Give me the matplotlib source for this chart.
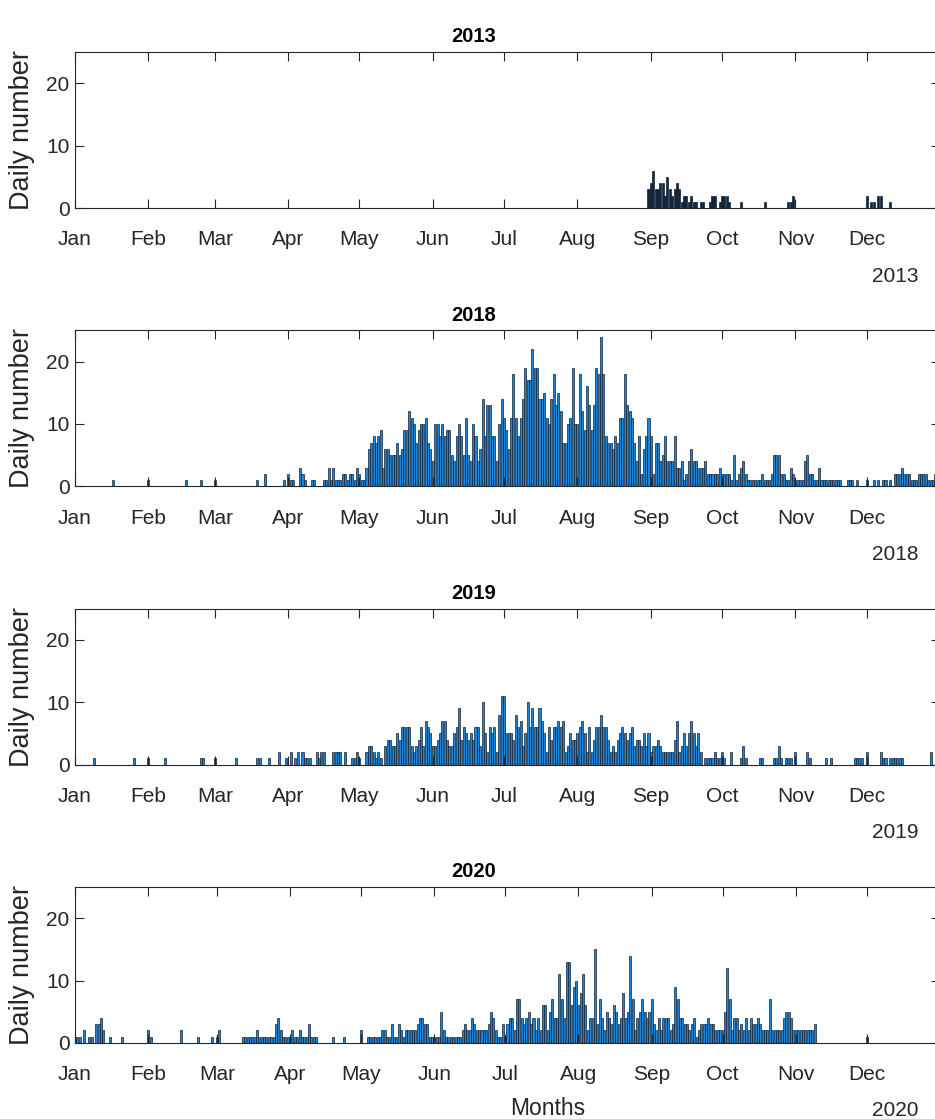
import datetime as dt
import numpy as np
import pandas as pd
import matplotlib
matplotlib.use('Agg')
import matplotlib.pyplot as plt
import matplotlib.dates as mdates

plt.rcParams['font.family'] = ['Liberation Sans', 'DejaVu Sans']

# daily counts, one list per month (Jan..Dec)
counts_2013 = [
    [0, 0, 0, 0, 0, 0, 0, 0, 0, 0, 0, 0, 0, 0, 0, 0, 0, 0, 0, 0, 0, 0, 0, 0, 0, 0, 0, 0, 0, 0, 0],
    [0, 0, 0, 0, 0, 0, 0, 0, 0, 0, 0, 0, 0, 0, 0, 0, 0, 0, 0, 0, 0, 0, 0, 0, 0, 0, 0, 0],
    [0, 0, 0, 0, 0, 0, 0, 0, 0, 0, 0, 0, 0, 0, 0, 0, 0, 0, 0, 0, 0, 0, 0, 0, 0, 0, 0, 0, 0, 0, 0],
    [0, 0, 0, 0, 0, 0, 0, 0, 0, 0, 0, 0, 0, 0, 0, 0, 0, 0, 0, 0, 0, 0, 0, 0, 0, 0, 0, 0, 0, 0],
    [0, 0, 0, 0, 0, 0, 0, 0, 0, 0, 0, 0, 0, 0, 0, 0, 0, 0, 0, 0, 0, 0, 0, 0, 0, 0, 0, 0, 0, 0, 0],
    [0, 0, 0, 0, 0, 0, 0, 0, 0, 0, 0, 0, 0, 0, 0, 0, 0, 0, 0, 0, 0, 0, 0, 0, 0, 0, 0, 0, 0, 0],
    [0, 0, 0, 0, 0, 0, 0, 0, 0, 0, 0, 0, 0, 0, 0, 0, 0, 0, 0, 0, 0, 0, 0, 0, 0, 0, 0, 0, 0, 0, 0],
    [0, 0, 0, 0, 0, 0, 0, 0, 0, 0, 0, 0, 0, 0, 0, 0, 0, 0, 0, 0, 0, 0, 0, 0, 0, 0, 0, 0, 0, 0, 3],
    [4, 6, 3, 3, 4, 4, 2, 5, 3, 2, 3, 4, 3, 1, 2, 2, 1, 2, 1, 1, 0, 1, 1, 0, 0, 1, 2, 2, 0, 1],
    [2, 2, 2, 1, 0, 0, 0, 0, 1, 0, 0, 0, 0, 0, 0, 0, 0, 0, 1, 0, 0, 0, 0, 0, 0, 0, 0, 0, 1, 1, 2],
    [0, 0, 0, 0, 0, 0, 0, 0, 0, 0, 0, 0, 0, 0, 0, 0, 0, 0, 0, 0, 0, 0, 0, 0, 0, 0, 0, 0, 0, 0],
    [2, 0, 1, 1, 0, 2, 2, 0, 0, 0, 1, 0, 0, 0, 0, 0, 0, 0, 0, 0, 0, 0, 0, 0, 0, 0, 0, 0, 0, 0, 0],
]

counts_2018 = [
    [0, 0, 0, 0, 0, 0, 0, 0, 0, 0, 0, 0, 0, 0, 0, 0, 1, 0, 0, 0, 0, 0, 0, 0, 0, 0, 0, 0, 0, 0, 0],
    [1, 0, 0, 0, 0, 0, 0, 0, 0, 0, 0, 0, 0, 0, 0, 0, 1, 0, 0, 0, 0, 0, 1, 0, 0, 0, 0, 0],
    [1, 0, 0, 0, 0, 0, 0, 0, 0, 0, 0, 0, 0, 0, 0, 0, 0, 0, 1, 0, 0, 2, 0, 0, 0, 0, 0, 0, 0, 1, 0],
    [2, 1, 1, 0, 0, 3, 2, 1, 0, 0, 1, 1, 0, 0, 0, 1, 1, 3, 1, 3, 1, 1, 1, 2, 2, 1, 2, 2, 1, 3],
    [2, 1, 1, 3, 6, 7, 8, 7, 8, 9, 3, 6, 6, 5, 5, 5, 7, 5, 6, 9, 9, 12, 11, 10, 7, 9, 10, 10, 11, 7, 6],
    [4, 10, 10, 8, 10, 8, 9, 9, 5, 4, 8, 10, 8, 5, 11, 5, 4, 10, 8, 4, 6, 14, 8, 13, 13, 8, 8, 4, 10, 14],
    [11, 9, 6, 11, 18, 11, 8, 11, 14, 19, 17, 17, 22, 19, 19, 14, 14, 15, 11, 10, 14, 18, 13, 15, 12, 7, 7, 10, 11, 19, 10],
    [10, 18, 12, 9, 16, 13, 9, 13, 19, 18, 24, 18, 8, 7, 7, 6, 8, 7, 11, 11, 18, 13, 12, 11, 7, 4, 8, 2, 6, 8, 11],
    [8, 2, 7, 7, 4, 5, 8, 4, 4, 4, 8, 3, 3, 4, 1, 2, 4, 6, 4, 4, 3, 3, 3, 4, 2, 2, 2, 2, 2, 3],
    [2, 2, 2, 2, 1, 5, 1, 2, 3, 4, 2, 1, 1, 1, 1, 1, 1, 2, 1, 1, 1, 2, 5, 5, 5, 2, 2, 1, 1, 3, 2],
    [1, 1, 1, 1, 4, 5, 2, 2, 1, 1, 3, 1, 1, 1, 1, 1, 1, 1, 1, 1, 0, 0, 1, 1, 1, 0, 1, 0, 0, 0],
    [1, 0, 0, 1, 0, 1, 0, 1, 1, 0, 1, 0, 2, 2, 2, 3, 2, 2, 2, 1, 1, 1, 2, 2, 2, 2, 1, 1, 1, 2, 2],
]

counts_2019 = [
    [0, 0, 0, 0, 0, 0, 0, 0, 1, 0, 0, 0, 0, 0, 0, 0, 0, 0, 0, 0, 0, 0, 0, 0, 0, 1, 0, 0, 0, 0, 0],
    [1, 0, 0, 0, 0, 0, 0, 1, 0, 0, 0, 0, 0, 0, 0, 0, 0, 0, 0, 0, 0, 0, 1, 1, 0, 0, 0, 0],
    [1, 0, 0, 0, 0, 0, 0, 0, 0, 1, 0, 0, 0, 0, 0, 0, 0, 0, 1, 1, 0, 0, 0, 1, 0, 0, 0, 2, 0, 0, 1],
    [0, 2, 0, 1, 2, 0, 2, 1, 1, 1, 0, 0, 2, 1, 2, 2, 0, 0, 0, 2, 2, 2, 2, 0, 2, 0, 0, 1, 1, 2],
    [1, 0, 0, 2, 3, 3, 2, 1, 2, 1, 0, 3, 4, 4, 3, 3, 5, 4, 6, 6, 6, 6, 3, 2, 3, 4, 6, 3, 7, 6, 5],
    [3, 3, 4, 5, 7, 7, 4, 3, 3, 5, 6, 9, 4, 6, 5, 4, 5, 4, 6, 6, 3, 10, 5, 2, 6, 5, 6, 2, 8, 11],
    [11, 5, 5, 5, 4, 8, 6, 7, 3, 5, 10, 6, 9, 6, 6, 9, 7, 5, 2, 6, 4, 6, 6, 7, 6, 7, 2, 3, 5, 4, 4],
    [5, 6, 7, 5, 2, 6, 2, 4, 6, 6, 8, 6, 6, 4, 2, 3, 2, 4, 5, 6, 5, 4, 5, 6, 3, 4, 4, 3, 5, 3, 5],
    [2, 3, 3, 4, 3, 2, 2, 2, 2, 2, 4, 7, 2, 3, 5, 3, 5, 7, 5, 3, 5, 2, 0, 1, 1, 1, 1, 2, 1, 1],
    [2, 1, 0, 0, 2, 0, 0, 0, 1, 3, 1, 0, 0, 0, 0, 0, 1, 1, 0, 0, 0, 0, 1, 1, 3, 1, 0, 1, 1, 1, 0],
    [2, 0, 0, 0, 0, 2, 1, 0, 0, 0, 0, 0, 0, 1, 0, 1, 0, 0, 0, 0, 0, 0, 0, 0, 0, 1, 1, 1, 1, 0],
    [2, 0, 0, 0, 0, 0, 2, 1, 1, 0, 1, 1, 1, 1, 1, 1, 0, 0, 0, 0, 0, 0, 0, 0, 0, 0, 0, 2, 0, 0, 0],
]

counts_2020 = [
    [1, 1, 1, 0, 2, 0, 1, 1, 0, 3, 3, 4, 2, 0, 0, 1, 0, 0, 0, 0, 1, 0, 0, 0, 0, 0, 0, 0, 0, 0, 0],
    [2, 1, 0, 0, 0, 0, 0, 0, 0, 0, 0, 0, 0, 0, 2, 0, 0, 0, 0, 0, 0, 1, 0, 0, 0, 0, 0, 1, 0],
    [1, 2, 0, 0, 0, 0, 0, 0, 0, 0, 0, 1, 1, 1, 1, 1, 1, 2, 1, 1, 1, 1, 1, 1, 1, 3, 4, 2, 1, 1, 1],
    [1, 2, 1, 1, 2, 1, 1, 1, 3, 1, 1, 1, 0, 0, 0, 0, 0, 0, 1, 0, 0, 0, 0, 1, 0, 0, 0, 0, 0, 0],
    [2, 0, 0, 1, 1, 1, 1, 1, 1, 2, 2, 1, 1, 3, 1, 1, 3, 2, 1, 2, 2, 2, 2, 2, 3, 4, 4, 3, 3, 1, 1],
    [1, 1, 1, 5, 2, 1, 1, 1, 1, 1, 1, 1, 2, 3, 2, 2, 4, 3, 2, 2, 2, 2, 2, 3, 5, 4, 2, 1, 1, 3],
    [1, 3, 4, 4, 2, 7, 7, 4, 3, 4, 5, 3, 4, 2, 4, 2, 6, 6, 2, 5, 7, 4, 4, 11, 7, 4, 13, 13, 6, 9, 10],
    [6, 8, 11, 6, 2, 4, 4, 15, 3, 7, 4, 2, 5, 4, 3, 6, 5, 3, 4, 8, 4, 5, 14, 7, 2, 4, 5, 7, 5, 4, 5],
    [7, 3, 2, 4, 2, 4, 4, 4, 2, 3, 9, 7, 4, 4, 3, 3, 2, 3, 4, 1, 2, 3, 3, 3, 4, 3, 3, 2, 2, 2],
    [2, 5, 12, 7, 2, 4, 4, 2, 3, 2, 4, 2, 4, 3, 3, 4, 3, 2, 2, 2, 7, 2, 2, 2, 2, 2, 4, 5, 5, 4, 2],
    [2, 2, 2, 2, 2, 2, 2, 2, 3, 0, 0, 0, 0, 0, 0, 0, 0, 0, 0, 0, 0, 0, 0, 0, 0, 0, 0, 0, 0, 0],
    [1, 0, 0, 0, 0, 0, 0, 0, 0, 0, 0, 0, 0, 0, 0, 0, 0, 0, 0, 0, 0, 0, 0, 0, 0, 0, 0, 0, 0, 0, 0],
]

years = [2013, 2018, 2019, 2020]
yearly_counts = [counts_2013, counts_2018, counts_2019, counts_2020]
bar_colors = ['#13263d', '#1f84d6', '#1f84d6', '#1f84d6']
y_ticks = [0, 10, 20]

TXT = '#262626'
W, H = 935, 1119
fig = plt.figure(figsize=(W / 100, H / 100), dpi=100)

for i, (year, months) in enumerate(zip(years, yearly_counts)):
    top = 52 + i * 278.3
    ax = fig.add_axes([75 / W, 1 - (top + 156) / H, 865 / W, 156 / H])

    values = np.concatenate([np.array(m) for m in months])
    days = pd.date_range(f'{year}-01-01', periods=len(values), freq='D')
    ax.bar(days, values, width=0.85, color=bar_colors[i],
           edgecolor='#0f2238', linewidth=0.5)

    ax.set_xlim(dt.datetime(year, 1, 1), dt.datetime(year + 1, 1, 1))
    ax.set_ylim(0, 25)
    ax.set_yticks(y_ticks)
    month_starts = pd.date_range(f'{year}-01-01', periods=12, freq='MS')
    ax.set_xticks(month_starts)
    ax.xaxis.set_major_formatter(mdates.DateFormatter('%b'))

    ax.tick_params(direction='in', length=6.2, width=0.8, top=True, right=True,
                   labelsize=15, colors=TXT)
    ax.tick_params(axis='x', pad=16)
    ax.tick_params(axis='y', pad=4)
    for s in ax.spines.values():
        s.set_color(TXT)
        s.set_linewidth(0.8)

    ax.annotate(str(year), xy=(0.461, 1), xycoords='axes fraction',
                xytext=(0, 15), textcoords='offset pixels', ha='center',
                va='center', fontsize=14.5, fontweight='bold', color='black')
    ax.annotate('Daily number', xy=(0, 0.5), xycoords='axes fraction',
                xytext=(-53, 0), textcoords='offset pixels', ha='center',
                va='center', rotation=90, fontsize=19.5, color=TXT)
    ax.annotate(str(year), xy=(0.948, 0), xycoords='axes fraction',
                xytext=(0, -68), textcoords='offset pixels', ha='center',
                va='center', fontsize=15, color=TXT)
    if i == len(years) - 1:
        ax.annotate('Months', xy=(0.547, 0), xycoords='axes fraction',
                    xytext=(0, -66), textcoords='offset pixels', ha='center',
                    va='center', fontsize=16.5, color=TXT)

fig.savefig('out.png', dpi=100)
